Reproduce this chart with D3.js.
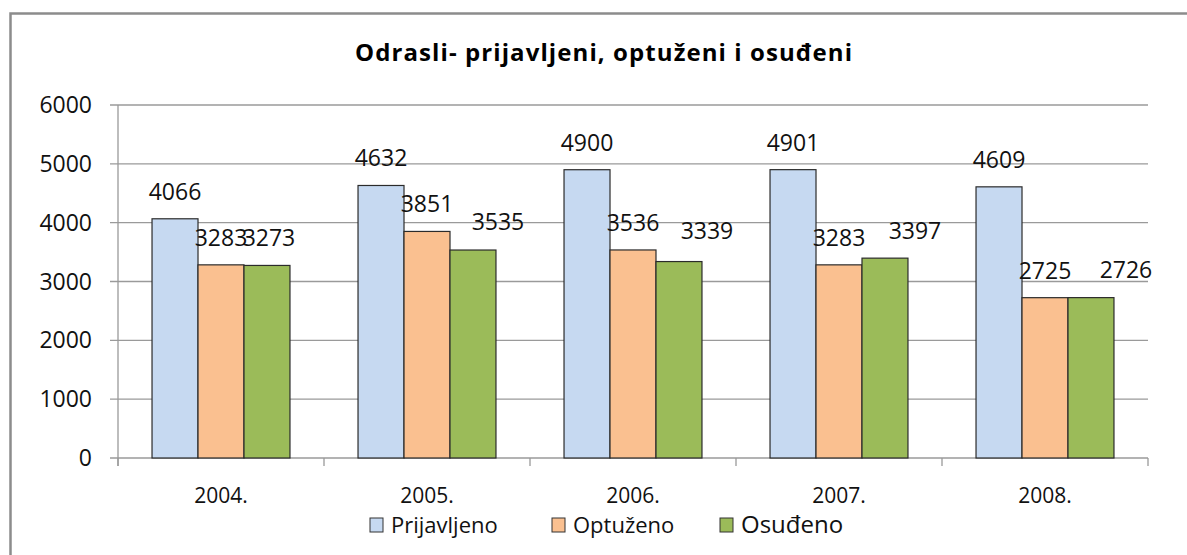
<!DOCTYPE html>
<html><head><meta charset="utf-8">
<script src="https://cdn.jsdelivr.net/npm/d3@7"></script>
<style>body{margin:0;background:#fff}svg{display:block}</style>
</head><body>
<script>
const categories = ["2004.", "2005.", "2006.", "2007.", "2008."];
const seriesNames = ["Prijavljeno", "Optuženo", "Osuđeno"];
const prijavljeno = [4066, 4632, 4900, 4901, 4609];
const optuzeno = [3283, 3851, 3536, 3283, 2725];
const osudjeno = [3273, 3535, 3339, 3397, 2726];
const yTicks = [0, 1000, 2000, 3000, 4000, 5000, 6000];
const colors = ["#c6d9f1", "#fac090", "#9bbb59"];
const title = "Odrasli- prijavljeni, optuženi i osuđeni";
// manual label nudges (style, not data) for the third series, as in the reference
const greenLabelDx = [2, 25, 28, 30, 35];
const greenLabelGap = [19, 20, 23, 19, 20];

(function(){
const W = 1187, H = 555;
const svg = d3.select("body").append("svg").attr("width", W).attr("height", H);
const font = "'Open Sans', sans-serif";

svg.append("path").attr("d", `M10.5,${H} L10.5,13.5 L${W},13.5`).attr("fill","none").attr("stroke","#8c8c8c").attr("stroke-width",2.5);

const pl = 118, pr = 1148, pt = 105, pb = 458;
const x = d3.scaleBand().domain(categories).range([pl, pr]).paddingInner(0).paddingOuter(0);
const inner = d3.scaleBand().domain(seriesNames).range([0, x.bandwidth()]).paddingInner(0).paddingOuter(0.74);
const y = d3.scaleLinear().domain([0, 6000]).range([pb, pt]);

svg.append("g").selectAll("line").data(yTicks).join("line")
  .attr("x1", pl - 8).attr("x2", pr).attr("y1", d => y(d)).attr("y2", d => y(d))
  .attr("stroke", "#9a9a9a").attr("stroke-width", 1.3);

svg.append("line").attr("x1", pl).attr("x2", pl).attr("y1", pt).attr("y2", pb + 8)
  .attr("stroke", "#9a9a9a").attr("stroke-width", 1.3);
const xTickPos = categories.map(c => x(c)).concat([pr]);
svg.append("g").selectAll("line").data(xTickPos).join("line")
  .attr("x1", d => d).attr("x2", d => d).attr("y1", pb).attr("y2", pb + 8)
  .attr("stroke", "#9a9a9a").attr("stroke-width", 1.3);

svg.append("g").selectAll("text").data(yTicks).join("text")
  .attr("x", 92).attr("y", d => y(d) + 8).attr("text-anchor", "end")
  .attr("font-family", font).attr("font-size", 23).attr("fill", "#111").text(d => d);

svg.append("g").selectAll("text").data(categories).join("text")
  .attr("x", d => x(d) + x.bandwidth()/2).attr("y", 503).attr("text-anchor", "middle")
  .attr("font-family", font).attr("font-size", 21).attr("fill", "#111").text(d => d);

const series = [prijavljeno, optuzeno, osudjeno];
const data = [];
categories.forEach((c, i) => seriesNames.forEach((s, j) => data.push({c, s, i, j, v: series[j][i]})));

svg.append("g").selectAll("rect").data(data).join("rect")
  .attr("x", d => x(d.c) + inner(d.s)).attr("width", inner.bandwidth())
  .attr("y", d => y(d.v)).attr("height", d => y(0) - y(d.v))
  .attr("fill", d => colors[d.j]).attr("stroke", "#2b2b2b").attr("stroke-width", 1.2);

svg.append("g").selectAll("text").data(data).join("text")
  .attr("x", d => x(d.c) + inner(d.s) + inner.bandwidth()/2 + (d.j === 2 ? greenLabelDx[d.i] : 0))
  .attr("y", d => y(d.v) - (d.j === 2 ? greenLabelGap[d.i] : 19))
  .attr("text-anchor", "middle").attr("font-family", font).attr("font-size", 23).attr("fill", "#111")
  .text(d => d.v);

svg.append("text").attr("x", 355).attr("y", 61)
  .attr("font-family", font).attr("font-weight", "700").attr("font-size", 24)
  .attr("textLength", 497).attr("lengthAdjust", "spacing")
  .attr("fill", "#000").text(title);

const legX = [370, 552, 720];
const legSize = [22, 22, 24];
const lg = svg.append("g").selectAll("g").data(seriesNames).join("g")
  .attr("transform", (d, i) => `translate(${legX[i]},518)`);
lg.append("rect").attr("x", 0).attr("y", 0).attr("width", 13).attr("height", 14)
  .attr("fill", (d, i) => colors[i]).attr("stroke", "#333").attr("stroke-width", 1);
lg.append("text").attr("x", 21).attr("y", 15).attr("font-family", font)
  .attr("font-size", (d, i) => legSize[i]).attr("fill", "#111").text(d => d);
})();
</script>
</body></html>
